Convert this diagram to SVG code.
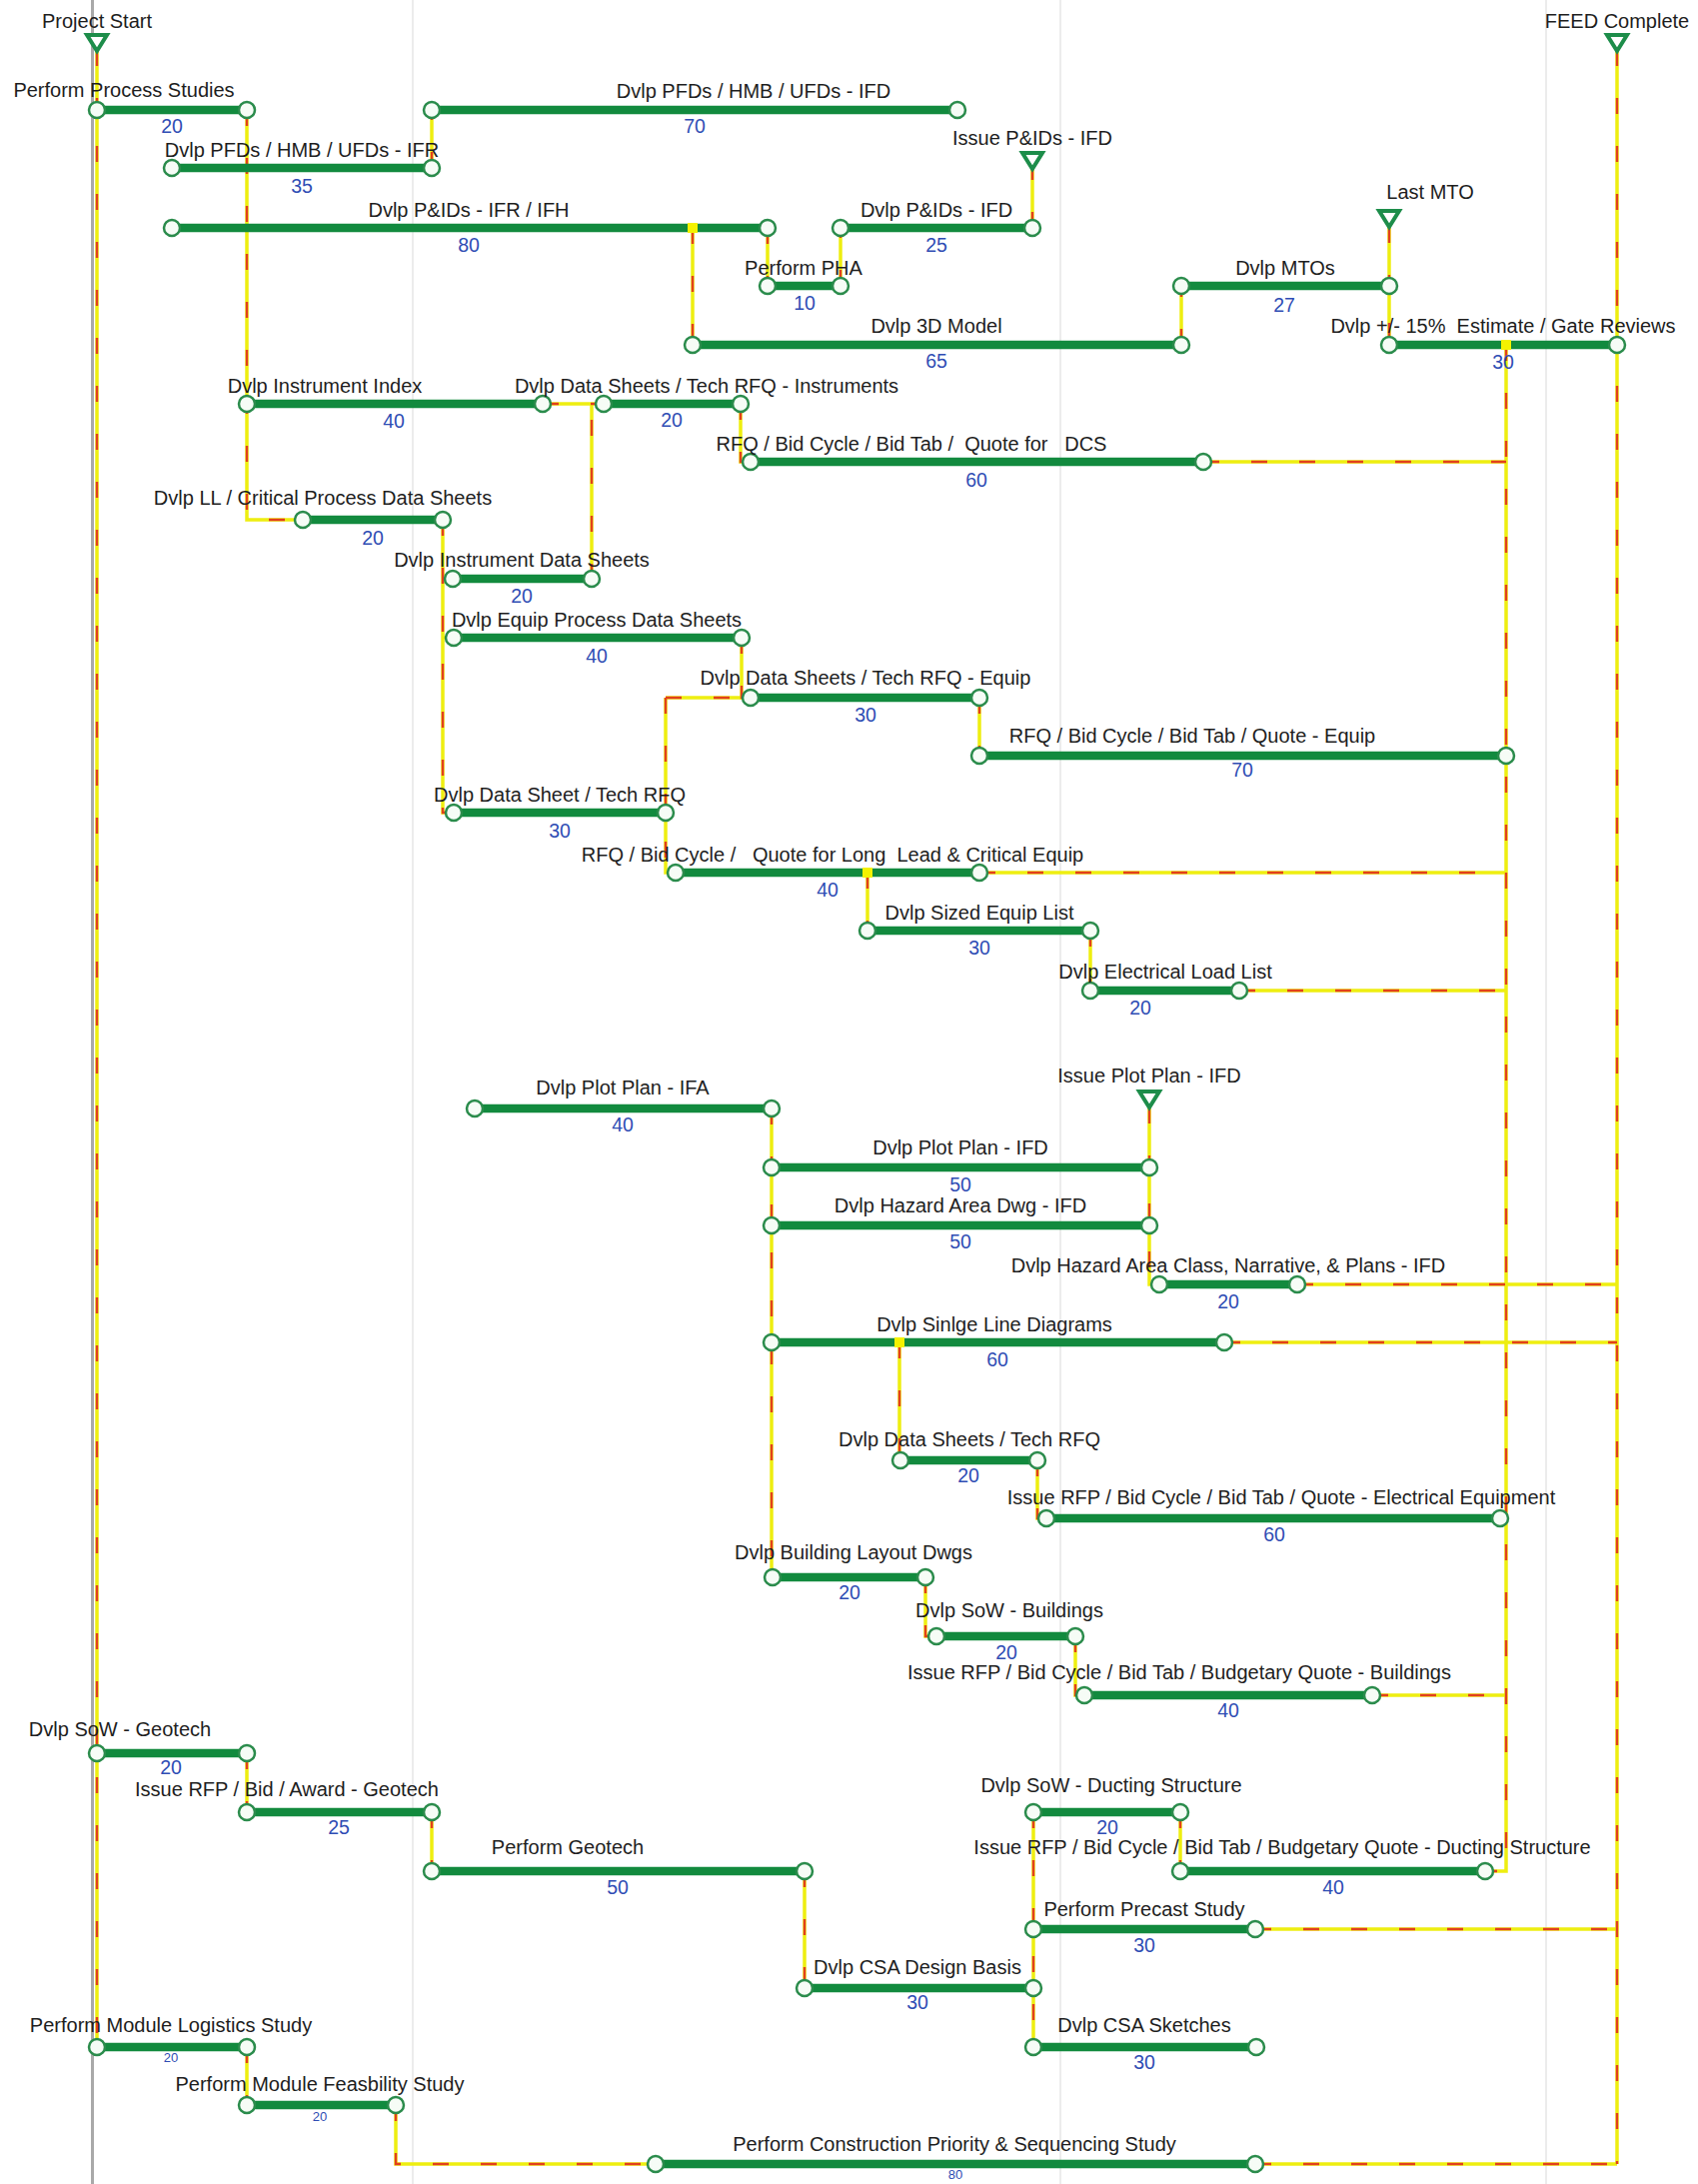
<svg xmlns="http://www.w3.org/2000/svg" width="1699" height="2185" viewBox="0 0 1699 2185">
<style>
.bg{fill:#ffffff}
.grid{stroke:#ececec;stroke-width:2;fill:none}
.today{stroke:#a9a9a9;stroke-width:3;fill:none}
.cy{stroke:#eeee10;stroke-width:3.5;fill:none}
.cr{stroke:#e2401c;stroke-width:2.4;fill:none;stroke-dasharray:16 32}
.bar{stroke:#128a3e;stroke-width:8.5;stroke-linecap:butt}
.node{fill:#f6fcf6;stroke:#2b8c4c;stroke-width:2.5}
.jn{fill:#f4f200}
.ms{fill:#ffffff;stroke:#1d8d4a;stroke-width:4;stroke-linejoin:miter}
.lbl{font-family:"Liberation Sans",Arial,sans-serif;font-size:20px;fill:#1e1e1e;text-anchor:middle}
.dur{font-family:"Liberation Sans",Arial,sans-serif;font-size:19.5px;fill:#2f4db4;text-anchor:middle}
.durs{font-family:"Liberation Sans",Arial,sans-serif;font-size:13px;fill:#2f4db4;text-anchor:middle}
</style>
<rect class="bg" x="0" y="0" width="1699" height="2185"/>
<g id="grid">
<line class="grid" x1="413" y1="0" x2="413" y2="2185"/>
<line class="grid" x1="1061" y1="0" x2="1061" y2="2185"/>
<line class="grid" x1="1547" y1="0" x2="1547" y2="2185"/>
<line class="today" x1="92.5" y1="0" x2="92.5" y2="2185"/>
</g>
<g id="connectors">
<g id="conn-yellow" class="cy">
<path d="M97,50 V2048"/>
<path d="M247,110 V520 H303"/>
<path d="M432,168 V110"/>
<path d="M693,228 V345"/>
<path d="M768,228 V286"/>
<path d="M841,286 V228"/>
<path d="M1033,228 V168"/>
<path d="M1182,345 V286"/>
<path d="M1390,227 V345"/>
<path d="M1618,50 V2165"/>
<path d="M1507,345 V1872 H1486"/>
<path d="M543,404 H604"/>
<path d="M592,580 V404"/>
<path d="M741,404 V462 H751"/>
<path d="M1204,462 H1507"/>
<path d="M443,520 V813 H454"/>
<path d="M443,579 H453"/>
<path d="M443,638 H454"/>
<path d="M742,638 V698 H751"/>
<path d="M666,698 V873 H676"/>
<path d="M666,698 H742"/>
<path d="M980,698 V756"/>
<path d="M980,873 H1507"/>
<path d="M868,873 V931"/>
<path d="M1091,931 V991"/>
<path d="M1240,991 H1507"/>
<path d="M772,1109 V1578"/>
<path d="M1150,1108 V1285 H1160"/>
<path d="M1298,1285 H1618"/>
<path d="M1225,1343 H1618"/>
<path d="M900,1343 V1461"/>
<path d="M1038,1461 V1519 H1047"/>
<path d="M1501,1519 H1507"/>
<path d="M926,1578 V1637 H937"/>
<path d="M1076,1637 V1696 H1085"/>
<path d="M1373,1696 H1507"/>
<path d="M247,1754 V1813"/>
<path d="M432,1813 V1872"/>
<path d="M805,1872 V1989"/>
<path d="M1181,1813 V1872"/>
<path d="M1034,1813 V2048"/>
<path d="M1256,1930 H1618"/>
<path d="M247,2048 V2106"/>
<path d="M396,2106 V2165 H656"/>
<path d="M1256,2165 H1618"/>
</g>
<g id="conn-red" class="cr">
<path d="M97,50 V2048"/>
<path d="M247,110 V520 H303"/>
<path d="M432,168 V110"/>
<path d="M693,228 V345"/>
<path d="M768,228 V286"/>
<path d="M841,286 V228"/>
<path d="M1033,228 V168"/>
<path d="M1182,345 V286"/>
<path d="M1390,227 V345"/>
<path d="M1618,50 V2165"/>
<path d="M1507,345 V1872 H1486"/>
<path d="M543,404 H604"/>
<path d="M592,580 V404"/>
<path d="M741,404 V462 H751"/>
<path d="M1204,462 H1507"/>
<path d="M443,520 V813 H454"/>
<path d="M742,638 V698 H751"/>
<path d="M666,698 V873 H676"/>
<path d="M666,698 H742"/>
<path d="M980,698 V756"/>
<path d="M980,873 H1507"/>
<path d="M868,873 V931"/>
<path d="M1091,931 V991"/>
<path d="M1240,991 H1507"/>
<path d="M772,1109 V1578"/>
<path d="M1150,1108 V1285 H1160"/>
<path d="M1298,1285 H1618"/>
<path d="M1225,1343 H1618"/>
<path d="M900,1343 V1461"/>
<path d="M1038,1461 V1519 H1047"/>
<path d="M926,1578 V1637 H937"/>
<path d="M1076,1637 V1696 H1085"/>
<path d="M1373,1696 H1507"/>
<path d="M247,1754 V1813"/>
<path d="M432,1813 V1872"/>
<path d="M805,1872 V1989"/>
<path d="M1181,1813 V1872"/>
<path d="M1034,1813 V2048"/>
<path d="M1256,1930 H1618"/>
<path d="M247,2048 V2106"/>
<path d="M396,2106 V2165 H656"/>
<path d="M1256,2165 H1618"/>
</g>
</g>

<g id="ms-project-start"><polygon class="ms" points="87,35 107,35 97,51"/><text class="lbl" x="97" y="28">Project Start</text></g>
<g id="ms-feed-complete"><polygon class="ms" points="1608,35 1628,35 1618,51"/><text class="lbl" x="1618" y="28">FEED Complete</text></g>
<g id="ms-issue-pids"><polygon class="ms" points="1023,153 1043,153 1033,169"/><text class="lbl" x="1033" y="145">Issue P&amp;IDs - IFD</text></g>
<g id="ms-last-mto"><polygon class="ms" points="1380,211 1400,211 1390,227"/><text class="lbl" x="1431" y="199">Last MTO</text></g>
<g id="ms-issue-plot"><polygon class="ms" points="1140,1092 1160,1092 1150,1108"/><text class="lbl" x="1150" y="1083">Issue Plot Plan - IFD</text></g>

<g id="t01"><line class="bar" x1="97" y1="110" x2="247" y2="110"/><circle class="node" cx="97" cy="110" r="8"/><circle class="node" cx="247" cy="110" r="8"/><text class="lbl" x="124" y="97">Perform Process Studies</text><text class="dur" x="172" y="133">20</text></g>
<g id="t02"><line class="bar" x1="432" y1="110" x2="958" y2="110"/><circle class="node" cx="432" cy="110" r="8"/><circle class="node" cx="958" cy="110" r="8"/><text class="lbl" x="754" y="98">Dvlp PFDs / HMB / UFDs - IFD</text><text class="dur" x="695" y="133">70</text></g>
<g id="t03"><line class="bar" x1="172" y1="168" x2="432" y2="168"/><circle class="node" cx="172" cy="168" r="8"/><circle class="node" cx="432" cy="168" r="8"/><text class="lbl" x="302" y="157">Dvlp PFDs / HMB / UFDs - IFR</text><text class="dur" x="302" y="193">35</text></g>
<g id="t04"><line class="bar" x1="172" y1="228" x2="768" y2="228"/><circle class="node" cx="172" cy="228" r="8"/><circle class="node" cx="768" cy="228" r="8"/><text class="lbl" x="469" y="217">Dvlp P&amp;IDs - IFR / IFH</text><text class="dur" x="469" y="252">80</text></g>
<g id="t05"><line class="bar" x1="841" y1="228" x2="1033" y2="228"/><circle class="node" cx="841" cy="228" r="8"/><circle class="node" cx="1033" cy="228" r="8"/><text class="lbl" x="937" y="217">Dvlp P&amp;IDs - IFD</text><text class="dur" x="937" y="252">25</text></g>
<g id="t06"><line class="bar" x1="768" y1="286" x2="841" y2="286"/><circle class="node" cx="768" cy="286" r="8"/><circle class="node" cx="841" cy="286" r="8"/><text class="lbl" x="804" y="275">Perform PHA</text><text class="dur" x="805" y="310">10</text></g>
<g id="t07"><line class="bar" x1="1182" y1="286" x2="1390" y2="286"/><circle class="node" cx="1182" cy="286" r="8"/><circle class="node" cx="1390" cy="286" r="8"/><text class="lbl" x="1286" y="275">Dvlp MTOs</text><text class="dur" x="1285" y="312">27</text></g>
<g id="t08"><line class="bar" x1="693" y1="345" x2="1182" y2="345"/><circle class="node" cx="693" cy="345" r="8"/><circle class="node" cx="1182" cy="345" r="8"/><text class="lbl" x="937" y="333">Dvlp 3D Model</text><text class="dur" x="937" y="368">65</text></g>
<g id="t09"><line class="bar" x1="1390" y1="345" x2="1618" y2="345"/><circle class="node" cx="1390" cy="345" r="8"/><circle class="node" cx="1618" cy="345" r="8"/><text class="lbl" x="1504" y="333" xml:space="preserve">Dvlp +/- 15%  Estimate / Gate Reviews</text><text class="dur" x="1504" y="369">30</text></g>
<g id="t10"><line class="bar" x1="247" y1="404" x2="543" y2="404"/><circle class="node" cx="247" cy="404" r="8"/><circle class="node" cx="543" cy="404" r="8"/><text class="lbl" x="325" y="393">Dvlp Instrument Index</text><text class="dur" x="394" y="428">40</text></g>
<g id="t11"><line class="bar" x1="604" y1="404" x2="741" y2="404"/><circle class="node" cx="604" cy="404" r="8"/><circle class="node" cx="741" cy="404" r="8"/><text class="lbl" x="707" y="393">Dvlp Data Sheets / Tech RFQ - Instruments</text><text class="dur" x="672" y="427">20</text></g>
<g id="t12"><line class="bar" x1="751" y1="462" x2="1204" y2="462"/><circle class="node" cx="751" cy="462" r="8"/><circle class="node" cx="1204" cy="462" r="8"/><text class="lbl" x="912" y="451" xml:space="preserve">RFQ / Bid Cycle / Bid Tab /  Quote for   DCS</text><text class="dur" x="977" y="487">60</text></g>
<g id="t13"><line class="bar" x1="303" y1="520" x2="443" y2="520"/><circle class="node" cx="303" cy="520" r="8"/><circle class="node" cx="443" cy="520" r="8"/><text class="lbl" x="323" y="505">Dvlp LL / Critical Process Data Sheets</text><text class="dur" x="373" y="545">20</text></g>
<g id="t14"><line class="bar" x1="453" y1="579" x2="592" y2="579"/><circle class="node" cx="453" cy="579" r="8"/><circle class="node" cx="592" cy="579" r="8"/><text class="lbl" x="522" y="567">Dvlp Instrument Data Sheets</text><text class="dur" x="522" y="603">20</text></g>
<g id="t15"><line class="bar" x1="454" y1="638" x2="742" y2="638"/><circle class="node" cx="454" cy="638" r="8"/><circle class="node" cx="742" cy="638" r="8"/><text class="lbl" x="597" y="627">Dvlp Equip Process Data Sheets</text><text class="dur" x="597" y="663">40</text></g>
<g id="t16"><line class="bar" x1="751" y1="698" x2="980" y2="698"/><circle class="node" cx="751" cy="698" r="8"/><circle class="node" cx="980" cy="698" r="8"/><text class="lbl" x="866" y="685">Dvlp Data Sheets / Tech RFQ - Equip</text><text class="dur" x="866" y="722">30</text></g>
<g id="t17"><line class="bar" x1="980" y1="756" x2="1507" y2="756"/><circle class="node" cx="980" cy="756" r="8"/><circle class="node" cx="1507" cy="756" r="8"/><text class="lbl" x="1193" y="743">RFQ / Bid Cycle / Bid Tab / Quote - Equip</text><text class="dur" x="1243" y="777">70</text></g>
<g id="t18"><line class="bar" x1="454" y1="813" x2="666" y2="813"/><circle class="node" cx="454" cy="813" r="8"/><circle class="node" cx="666" cy="813" r="8"/><text class="lbl" x="560" y="802">Dvlp Data Sheet / Tech RFQ</text><text class="dur" x="560" y="838">30</text></g>
<g id="t19"><line class="bar" x1="676" y1="873" x2="980" y2="873"/><circle class="node" cx="676" cy="873" r="8"/><circle class="node" cx="980" cy="873" r="8"/><text class="lbl" x="833" y="862" xml:space="preserve">RFQ / Bid Cycle /   Quote for Long  Lead &amp; Critical Equip</text><text class="dur" x="828" y="897">40</text></g>
<g id="t20"><line class="bar" x1="868" y1="931" x2="1091" y2="931"/><circle class="node" cx="868" cy="931" r="8"/><circle class="node" cx="1091" cy="931" r="8"/><text class="lbl" x="980" y="920">Dvlp Sized Equip List</text><text class="dur" x="980" y="955">30</text></g>
<g id="t21"><line class="bar" x1="1091" y1="991" x2="1240" y2="991"/><circle class="node" cx="1091" cy="991" r="8"/><circle class="node" cx="1240" cy="991" r="8"/><text class="lbl" x="1166" y="979">Dvlp Electrical Load List</text><text class="dur" x="1141" y="1015">20</text></g>
<g id="t22"><line class="bar" x1="475" y1="1109" x2="772" y2="1109"/><circle class="node" cx="475" cy="1109" r="8"/><circle class="node" cx="772" cy="1109" r="8"/><text class="lbl" x="623" y="1095">Dvlp Plot Plan - IFA</text><text class="dur" x="623" y="1132">40</text></g>
<g id="t23"><line class="bar" x1="772" y1="1168" x2="1150" y2="1168"/><circle class="node" cx="772" cy="1168" r="8"/><circle class="node" cx="1150" cy="1168" r="8"/><text class="lbl" x="961" y="1155">Dvlp Plot Plan - IFD</text><text class="dur" x="961" y="1192">50</text></g>
<g id="t24"><line class="bar" x1="772" y1="1226" x2="1150" y2="1226"/><circle class="node" cx="772" cy="1226" r="8"/><circle class="node" cx="1150" cy="1226" r="8"/><text class="lbl" x="961" y="1213">Dvlp Hazard Area Dwg - IFD</text><text class="dur" x="961" y="1249">50</text></g>
<g id="t25"><line class="bar" x1="1160" y1="1285" x2="1298" y2="1285"/><circle class="node" cx="1160" cy="1285" r="8"/><circle class="node" cx="1298" cy="1285" r="8"/><text class="lbl" x="1229" y="1273">Dvlp Hazard Area Class, Narrative, &amp; Plans - IFD</text><text class="dur" x="1229" y="1309">20</text></g>
<g id="t26"><line class="bar" x1="772" y1="1343" x2="1225" y2="1343"/><circle class="node" cx="772" cy="1343" r="8"/><circle class="node" cx="1225" cy="1343" r="8"/><text class="lbl" x="995" y="1332">Dvlp Sinlge Line Diagrams</text><text class="dur" x="998" y="1367">60</text></g>
<g id="t27"><line class="bar" x1="901" y1="1461" x2="1038" y2="1461"/><circle class="node" cx="901" cy="1461" r="8"/><circle class="node" cx="1038" cy="1461" r="8"/><text class="lbl" x="970" y="1447">Dvlp Data Sheets / Tech RFQ</text><text class="dur" x="969" y="1483">20</text></g>
<g id="t28"><line class="bar" x1="1047" y1="1519" x2="1501" y2="1519"/><circle class="node" cx="1047" cy="1519" r="8"/><circle class="node" cx="1501" cy="1519" r="8"/><text class="lbl" x="1282" y="1505">Issue RFP / Bid Cycle / Bid Tab / Quote - Electrical Equipment</text><text class="dur" x="1275" y="1542">60</text></g>
<g id="t29"><line class="bar" x1="773" y1="1578" x2="926" y2="1578"/><circle class="node" cx="773" cy="1578" r="8"/><circle class="node" cx="926" cy="1578" r="8"/><text class="lbl" x="854" y="1560">Dvlp Building Layout Dwgs</text><text class="dur" x="850" y="1600">20</text></g>
<g id="t30"><line class="bar" x1="937" y1="1637" x2="1076" y2="1637"/><circle class="node" cx="937" cy="1637" r="8"/><circle class="node" cx="1076" cy="1637" r="8"/><text class="lbl" x="1010" y="1618">Dvlp SoW - Buildings</text><text class="dur" x="1007" y="1660">20</text></g>
<g id="t31"><line class="bar" x1="1085" y1="1696" x2="1373" y2="1696"/><circle class="node" cx="1085" cy="1696" r="8"/><circle class="node" cx="1373" cy="1696" r="8"/><text class="lbl" x="1180" y="1680">Issue RFP / Bid Cycle / Bid Tab / Budgetary Quote - Buildings</text><text class="dur" x="1229" y="1718">40</text></g>
<g id="t32"><line class="bar" x1="97" y1="1754" x2="247" y2="1754"/><circle class="node" cx="97" cy="1754" r="8"/><circle class="node" cx="247" cy="1754" r="8"/><text class="lbl" x="120" y="1737">Dvlp SoW - Geotech</text><text class="dur" x="171" y="1775">20</text></g>
<g id="t33"><line class="bar" x1="247" y1="1813" x2="432" y2="1813"/><circle class="node" cx="247" cy="1813" r="8"/><circle class="node" cx="432" cy="1813" r="8"/><text class="lbl" x="287" y="1797">Issue RFP / Bid / Award - Geotech</text><text class="dur" x="339" y="1835">25</text></g>
<g id="t34"><line class="bar" x1="432" y1="1872" x2="805" y2="1872"/><circle class="node" cx="432" cy="1872" r="8"/><circle class="node" cx="805" cy="1872" r="8"/><text class="lbl" x="568" y="1855">Perform Geotech</text><text class="dur" x="618" y="1895">50</text></g>
<g id="t35"><line class="bar" x1="1034" y1="1813" x2="1181" y2="1813"/><circle class="node" cx="1034" cy="1813" r="8"/><circle class="node" cx="1181" cy="1813" r="8"/><text class="lbl" x="1112" y="1793">Dvlp SoW - Ducting Structure</text><text class="dur" x="1108" y="1835">20</text></g>
<g id="t36"><line class="bar" x1="1181" y1="1872" x2="1486" y2="1872"/><circle class="node" cx="1181" cy="1872" r="8"/><circle class="node" cx="1486" cy="1872" r="8"/><text class="lbl" x="1283" y="1855">Issue RFP / Bid Cycle / Bid Tab / Budgetary Quote - Ducting Structure</text><text class="dur" x="1334" y="1895">40</text></g>
<g id="t37"><line class="bar" x1="1034" y1="1930" x2="1256" y2="1930"/><circle class="node" cx="1034" cy="1930" r="8"/><circle class="node" cx="1256" cy="1930" r="8"/><text class="lbl" x="1145" y="1917">Perform Precast Study</text><text class="dur" x="1145" y="1953">30</text></g>
<g id="t38"><line class="bar" x1="805" y1="1989" x2="1034" y2="1989"/><circle class="node" cx="805" cy="1989" r="8"/><circle class="node" cx="1034" cy="1989" r="8"/><text class="lbl" x="918" y="1975">Dvlp CSA Design Basis</text><text class="dur" x="918" y="2010">30</text></g>
<g id="t39"><line class="bar" x1="97" y1="2048" x2="247" y2="2048"/><circle class="node" cx="97" cy="2048" r="8"/><circle class="node" cx="247" cy="2048" r="8"/><text class="lbl" x="171" y="2033">Perform Module Logistics Study</text><text class="durs" x="171" y="2063">20</text></g>
<g id="t40"><line class="bar" x1="1034" y1="2048" x2="1257" y2="2048"/><circle class="node" cx="1034" cy="2048" r="8"/><circle class="node" cx="1257" cy="2048" r="8"/><text class="lbl" x="1145" y="2033">Dvlp CSA Sketches</text><text class="dur" x="1145" y="2070">30</text></g>
<g id="t41"><line class="bar" x1="247" y1="2106" x2="396" y2="2106"/><circle class="node" cx="247" cy="2106" r="8"/><circle class="node" cx="396" cy="2106" r="8"/><text class="lbl" x="320" y="2092">Perform Module Feasbility Study</text><text class="durs" x="320" y="2122">20</text></g>
<g id="t42"><line class="bar" x1="656" y1="2165" x2="1256" y2="2165"/><circle class="node" cx="656" cy="2165" r="8"/><circle class="node" cx="1256" cy="2165" r="8"/><text class="lbl" x="955" y="2152">Perform Construction Priority &amp; Sequencing Study</text><text class="durs" x="956" y="2180">80</text></g>

<g id="junctions">
<rect class="jn" x="688" y="223" width="10" height="10"/>
<rect class="jn" x="1502" y="340" width="10" height="10"/>
<rect class="jn" x="863" y="868" width="10" height="10"/>
<rect class="jn" x="895" y="1338" width="10" height="10"/>
</g>
</svg>
